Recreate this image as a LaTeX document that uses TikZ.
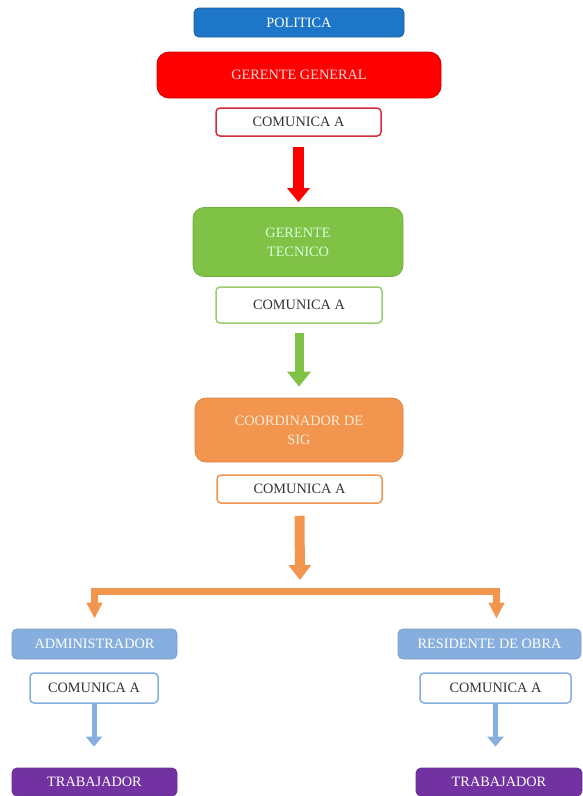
\documentclass[tikz,border=0pt]{standalone}
\usepackage{fontspec}
\setmainfont{Liberation Serif}
\usetikzlibrary{arrows.meta}

\definecolor{azulpol}{HTML}{1E76C8}
\definecolor{rojogg}{HTML}{FF0000}
\definecolor{rojoborde}{HTML}{D42A3A}
\definecolor{verdegt}{HTML}{80C246}
\definecolor{verdeborde}{HTML}{9CCB72}
\definecolor{naranjasig}{HTML}{F2954F}
\definecolor{celeste}{HTML}{86AEDF}
\definecolor{morado}{HTML}{7232A2}

\begin{document}
\begin{tikzpicture}[x=1pt,y=-1pt,
	caja/.style={rounded corners=5pt,inner sep=0pt,align=center,
		font=\fontsize{14.3}{19}\selectfont,text=white,line width=0.8pt},
	comunica/.style={caja,fill=white,draw=#1,text=black!80,line width=1.5pt,rounded corners=4pt},
	]
	\useasboundingbox (0,0) rectangle (583,796);

	\node[caja,fill=azulpol,draw=azulpol!80!black,minimum width=210pt,minimum height=29pt] (pol) at (299,22.5) {POLITICA};
	\node[caja,fill=rojogg,draw=rojogg!80!black,rounded corners=12pt,minimum width=284pt,minimum height=46pt,text=white!85!red] (gg) at (299,75) {GERENTE GENERAL};
	\node[comunica=rojoborde,minimum width=165pt,minimum height=28pt] (c1) at (298.5,122) {COMUNICA A};

	\node[caja,fill=verdegt,draw=verdegt!90!black,rounded corners=11pt,minimum width=210pt,minimum height=69pt,text=white!85!green] (gt) at (298,242) {GERENTE\\TECNICO};
	\node[comunica=verdeborde,minimum width=166pt,minimum height=36pt] (c2) at (299,305) {COMUNICA A};

	\node[caja,fill=naranjasig,draw=naranjasig!90!black,rounded corners=11pt,minimum width=208pt,minimum height=64pt,text=white!85!orange] (sig) at (299,430) {COORDINADOR DE\\SIG};
	\node[comunica=naranjasig,minimum width=165pt,minimum height=28pt] (c3) at (299.5,489) {COMUNICA A};
	\coordinate (bar) at (300,591);

	\node[caja,fill=celeste,draw=celeste!90!black,minimum width=165pt,minimum height=30pt] (adm) at (94.5,644) {ADMINISTRADOR};
	\node[comunica=celeste,minimum width=128pt,minimum height=30pt] (ca) at (94,688) {COMUNICA A};
	\node[caja,fill=morado,draw=morado!90!black,minimum width=165pt,minimum height=28pt] (tl) at (94.5,782) {TRABAJADOR};

	\node[caja,fill=celeste,draw=celeste!90!black,minimum width=183pt,minimum height=30pt] (res) at (489.5,644) {RESIDENTE DE OBRA};
	\node[comunica=celeste,minimum width=151pt,minimum height=30pt] (cr) at (495.5,688) {COMUNICA A};
	\node[caja,fill=morado,draw=morado!90!black,minimum width=166pt,minimum height=28pt] (tr) at (499,782) {TRABAJADOR};

	\draw[rojogg,line width=11pt,shorten <=10pt,shorten >=5pt,-{Triangle[width=22pt,length=14pt]}] (c1.south) -- (c1.south |- gt.north);
	\draw[verdegt,line width=9pt,shorten <=9pt,shorten >=11pt,-{Triangle[width=23pt,length=15pt]}] (c2.south) -- (c2.south |- sig.north);
	\draw[naranjasig,line width=10pt,shorten <=12pt,shorten >=11pt,-{Triangle[width=22pt,length=15pt]}] (c3.south) -- (bar);
	\draw[naranjasig,line width=7pt,line join=miter,shorten >=10pt,-{Triangle[width=15pt,length=16pt]}] (bar) -| (adm.north);
	\draw[naranjasig,line width=7pt,line join=miter,shorten >=10pt,-{Triangle[width=15pt,length=16pt]}] (bar) -| ([xshift=7pt]res.north);
	\draw[celeste,line width=5pt,shorten >=21pt,-{Triangle[width=16pt,length=10pt]}] (ca.south) -- (ca.south |- tl.north);
	\draw[celeste,line width=5pt,shorten >=21pt,-{Triangle[width=16pt,length=10pt]}] (cr.south) -- (cr.south |- tr.north);
\end{tikzpicture}
\end{document}
